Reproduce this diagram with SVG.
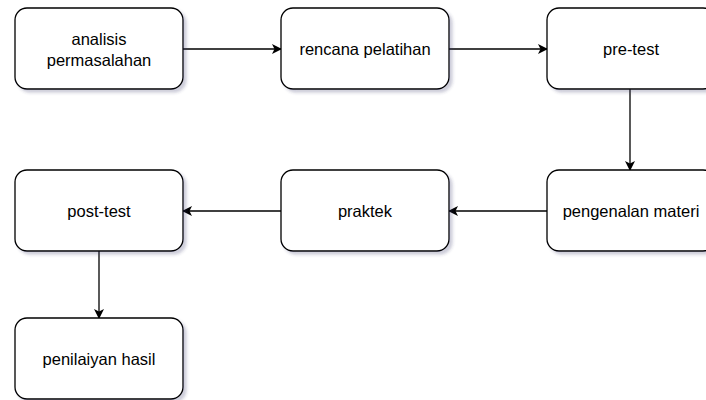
<svg xmlns="http://www.w3.org/2000/svg" width="706" height="400" viewBox="0 0 706 400">
<defs>
<filter id="sh" x="-10%" y="-10%" width="130%" height="130%">
<feGaussianBlur in="SourceAlpha" stdDeviation="1.5"/>
<feOffset dx="3" dy="3" result="b"/>
<feFlood flood-color="#3a3a6a" flood-opacity="0.25"/>
<feComposite in2="b" operator="in"/>
<feMerge><feMergeNode/><feMergeNode in="SourceGraphic"/></feMerge>
</filter>
<marker id="ah" viewBox="0 0 10 10" refX="9" refY="5" markerWidth="10" markerHeight="10" markerUnits="userSpaceOnUse" orient="auto">
<path d="M0,0 L10,5 L0,10 L2.5,5 Z" fill="#000"/>
</marker>
<style>
.box{fill:#fff;stroke:#000;stroke-width:1.3;filter:url(#sh)}
.t{font-family:"Liberation Sans",Arial,sans-serif;font-size:16.5px;fill:#000;text-anchor:middle}
.c{fill:none;stroke:#000;stroke-width:1.3;marker-end:url(#ah)}
</style>
</defs>
<rect width="706" height="400" fill="#fff"/>
<g id="connectors">
<path class="c" d="M183,49 L281,49"/>
<path class="c" d="M449,49 L547,49"/>
<path class="c" d="M630,89 L630,170"/>
<path class="c" d="M547,211 L449,211"/>
<path class="c" d="M281,211 L183,211"/>
<path class="c" d="M99,251 L99,318"/>
</g>
<g id="n1"><rect class="box" x="15" y="8" width="168" height="81" rx="12"/><text class="t" x="99" y="45">analisis</text><text class="t" x="99" y="66">permasalahan</text></g>
<g id="n2"><rect class="box" x="281" y="8" width="168" height="81" rx="12"/><text class="t" x="365" y="55">rencana pelatihan</text></g>
<g id="n3"><rect class="box" x="547" y="8" width="168" height="81" rx="12"/><text class="t" x="631" y="55">pre-test</text></g>
<g id="n4"><rect class="box" x="547" y="170" width="168" height="81" rx="12"/><text class="t" x="631" y="217">pengenalan materi</text></g>
<g id="n5"><rect class="box" x="281" y="170" width="168" height="81" rx="12"/><text class="t" x="365" y="217">praktek</text></g>
<g id="n6"><rect class="box" x="15" y="170" width="168" height="81" rx="12"/><text class="t" x="99" y="217">post-test</text></g>
<g id="n7"><rect class="box" x="15" y="318" width="168" height="81" rx="12"/><text class="t" x="99" y="365">penilaiyan hasil</text></g>
</svg>
